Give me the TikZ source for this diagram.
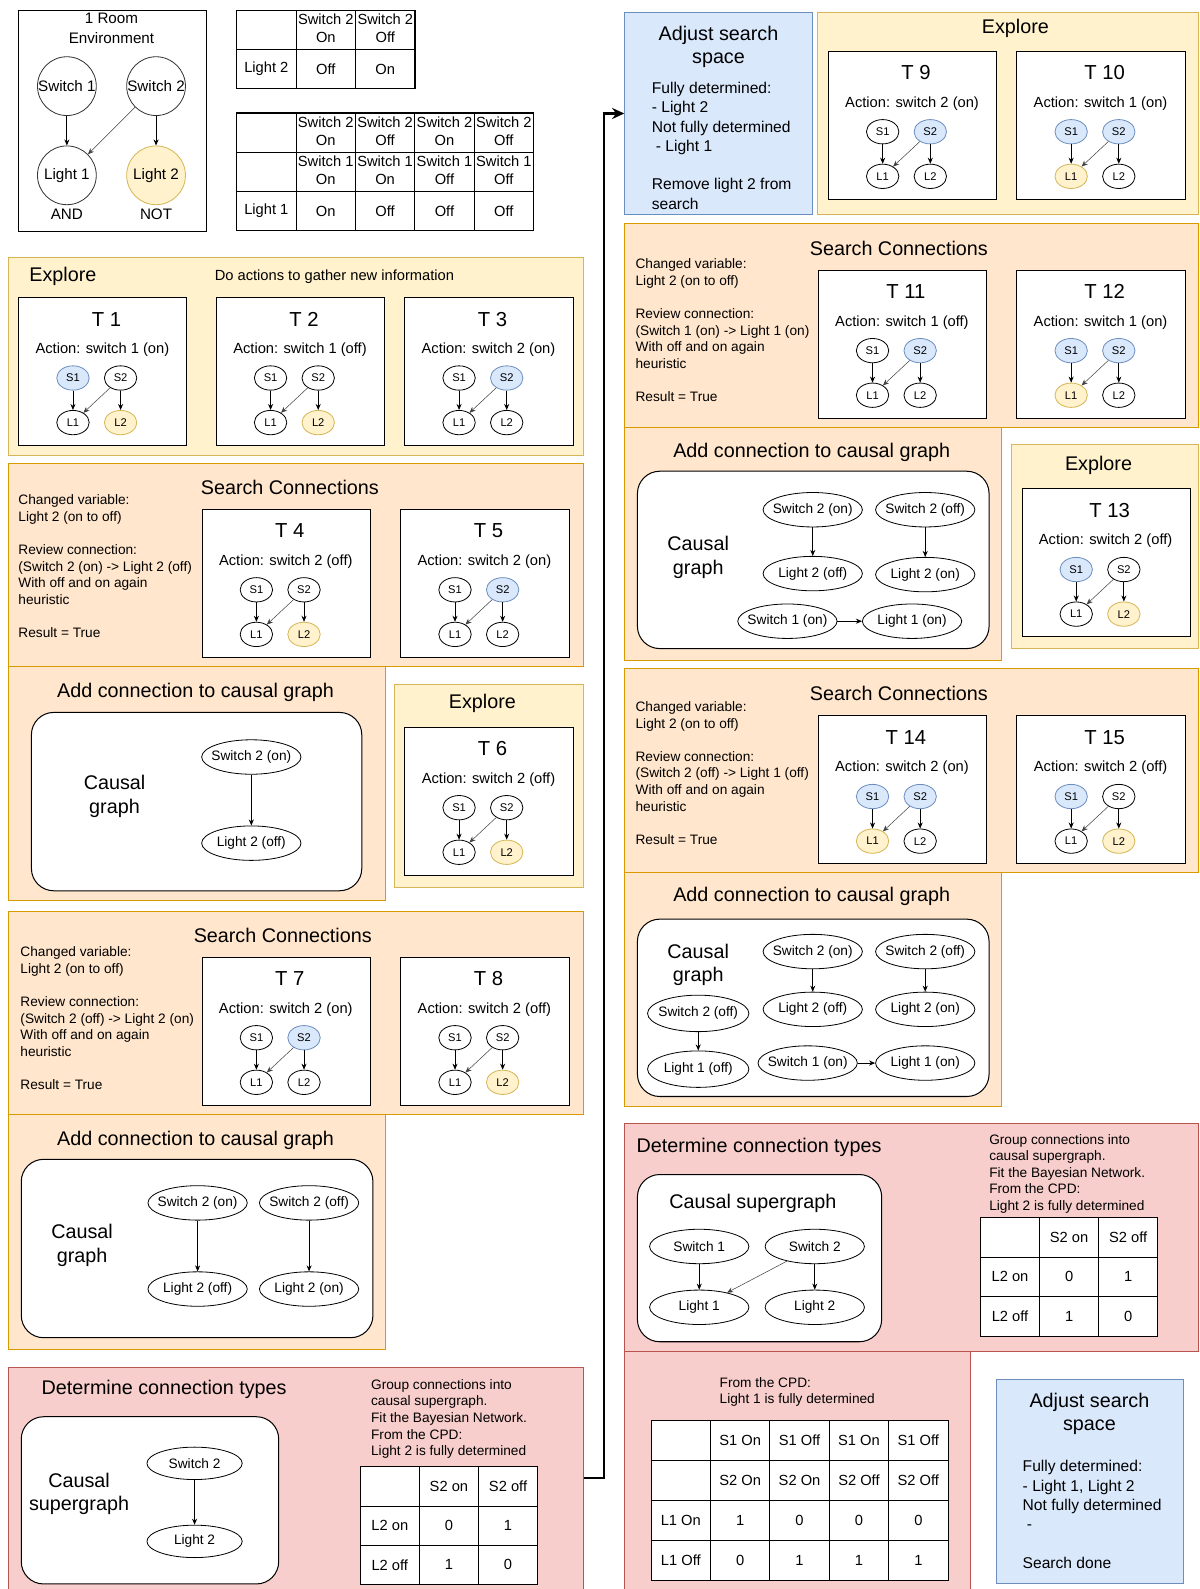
\documentclass[tikz,border=0pt]{standalone}
\usepackage{fontspec}
\setmainfont{Liberation Sans}
\usetikzlibrary{arrows.meta,shapes.geometric,matrix}
\definecolor{yfill}{HTML}{FFF2CC}
\definecolor{ystroke}{HTML}{D6B656}
\definecolor{ofill}{HTML}{FFE6CC}
\definecolor{ostroke}{HTML}{D79B00}
\definecolor{rfill}{HTML}{F8CECC}
\definecolor{rstroke}{HTML}{B85450}
\definecolor{bfill}{HTML}{DAE8FC}
\definecolor{bstroke}{HTML}{6C8EBF}
\newcommand\fsTitle{\fontsize{19.5}{23}\selectfont}
\newcommand\fsBody{\fontsize{13.5}{16.4}\selectfont}
\newcommand\fsAct{\fontsize{14.5}{17}\selectfont}
\newcommand\fsTnum{\fontsize{20}{24}\selectfont}
\newcommand\fsTab{\fontsize{14.5}{18}\selectfont}
\newcommand\fsBlue{\fontsize{15.4}{19}\selectfont}
\newcommand\fsEll{\fontsize{13.5}{16}\selectfont}
\newcommand\fsSm{\fontsize{11}{13}\selectfont}
\newcommand\fsEnv{\fontsize{15}{19}\selectfont}
\newcommand\mytwoline[2]{\begin{tabular}{@{}c@{}}#1\\#2\end{tabular}}
\tikzset{
  yellowpanel/.style={draw=ystroke, fill=yfill, line width=1pt},
  orangepanel/.style={draw=ostroke, fill=ofill, line width=1pt},
  redpanel/.style={draw=rstroke, fill=rfill, line width=1pt},
  bluepanel/.style={draw=bstroke, fill=bfill, line width=1pt},
  whitepanel/.style={draw=black, fill=white, line width=1pt},
  roundpanel/.style={draw=black, fill=white, line width=1pt, rounded corners=22pt},
  ttl/.style={font=\fsTitle, inner sep=0pt},
  leftbody/.style={font=\fsBody, align=left, anchor=north west, inner sep=0pt},
  bluebody/.style={font=\fsBlue, align=left, anchor=north west, inner sep=0pt},
  tframe/.style={draw=black, fill=white, line width=1pt, minimum width=166pt, minimum height=146pt, inner sep=0pt, anchor=north west},
  tnum/.style={font=\fsTnum, inner sep=0pt},
  tact/.style={font=\fsAct, inner sep=0pt},
  smnode/.style={ellipse, draw=black, line width=0.8pt, fill=white, minimum width=32pt, minimum height=24pt, inner sep=0pt, font=\fsSm},
  stnone/.style={},
  stblue/.style={fill=bfill, draw=bstroke},
  styellow/.style={fill=yfill, draw=ystroke},
  bignode/.style={ellipse, draw=black, line width=0.8pt, fill=white, minimum width=98pt, minimum height=34pt, inner xsep=-9pt, inner ysep=-4pt, font=\fsEll},
  envnode/.style={circle, draw=black!80, line width=0.8pt, fill=white, minimum size=58pt, inner sep=0pt, font=\fsEnv},
  arr/.style={-{Stealth[length=6pt,width=5pt]}, line width=0.8pt, draw=black},
  darr/.style={-{Stealth[length=6pt,width=5pt]}, line width=0.5pt, draw=black!75},
  bigarrow/.style={-{Stealth[length=12pt,width=11pt]}, line width=2.8pt, draw=black},
  tablestyle/.style={matrix of nodes, nodes in empty cells, anchor=north west, inner sep=0pt, outer sep=0pt, column sep=-1pt, row sep=-1pt,
    nodes={draw=black, fill=white, line width=1pt, inner sep=0pt, outer sep=0pt, anchor=center, font=\fsTab}},
}
\newcommand\mypanel[6]{%
  \pgfmathsetmacro\mypanelw{#5-#3}\pgfmathsetmacro\mypanelh{#6-#4}%
  \node[#2, rectangle, minimum width=\mypanelw pt, minimum height=\mypanelh pt, inner sep=0pt, outer sep=0pt, anchor=north west] (#1) at (#3,#4) {};}
\newcommand\mytstate[9]{%
  \node[tframe] (#1) at (#2,#3) {};
  \node[tnum] (#1n) at (#2+87,#3+22) {T #4};
  \node[tact] (#1a) at (#2+83,#3+52) {Action: #5};
  \node[smnode,#6] (#1s1) at (#2+54,#3+80) {S1};
  \node[smnode,#7] (#1s2) at (#2+101,#3+80) {S2};
  \node[smnode,#8] (#1l1) at (#2+54,#3+124) {L1};
  \node[smnode,#9] (#1l2) at (#2+101,#3+124) {L2};
  \draw[arr] (#1s1) -- (#1l1);
  \draw[arr] (#1s2) -- (#1l2);
  \draw[darr] (#1s2) -- (#1l1);
}
\begin{document}
\begin{tikzpicture}[x=1pt,y=-1pt]
\fill[white] (0,0) rectangle (1184,1568);
\useasboundingbox (0,0) rectangle (1184,1568);

% ---------- environment ----------
\mypanel{env}{whitepanel}{18}{10}{204}{228}
\node[font=\fsEnv, align=center, inner sep=0pt] (envt) at (110,28) {1 Room\\Environment};
\node[envnode] (sw1) at (66,85) {Switch 1};
\node[envnode] (sw2) at (154,85) {Switch 2};
\node[envnode] (li1) at (66,173) {Light 1};
\node[envnode, fill=yfill, draw=ystroke] (li2) at (154,173) {Light 2};
\node[font=\fsEnv] (andl) at (66,211) {AND};
\node[font=\fsEnv] (notl) at (154,211) {NOT};
\draw[arr] (sw1) -- (li1);
\draw[arr] (sw2) -- (li2);
\draw[darr] (sw2) -- (li1);

\matrix (tabA) [tablestyle, nodes={minimum width=58.67pt, minimum height=38.5pt}] at (233,10) {
  & \mytwoline{Switch 2}{On} & \mytwoline{Switch 2}{Off} \\
  Light 2 & Off & On \\
};
\matrix (tabB) [tablestyle, nodes={minimum width=58.6pt, minimum height=38.67pt}] at (233,111) {
  & \mytwoline{Switch 2}{On} & \mytwoline{Switch 2}{Off} & \mytwoline{Switch 2}{On} & \mytwoline{Switch 2}{Off} \\
  & \mytwoline{Switch 1}{On} & \mytwoline{Switch 1}{On} & \mytwoline{Switch 1}{Off} & \mytwoline{Switch 1}{Off} \\
  Light 1 & On & Off & Off & Off \\
};

% ---------- left column ----------
\mypanel{exp1}{yellowpanel}{8}{254}{576}{449}
\node[ttl] (exp1t) at (62,273) {Explore};
\node[font=\fsAct, inner sep=0pt] (exp1d) at (330,273) {Do actions to gather new information};
\mytstate{t1}{18}{293}{1}{switch 1 (on)}{stblue}{stnone}{stnone}{styellow}
\mytstate{t2}{213}{293}{2}{switch 1 (off)}{stnone}{stnone}{stnone}{styellow}
\mytstate{t3}{399}{293}{3}{switch 2 (on)}{stnone}{stblue}{stnone}{stnone}

\mypanel{sc1}{orangepanel}{8}{457}{576}{658}
\node[ttl] (sc1t) at (286,481) {Search Connections};
\node[leftbody] (sc1d) at (18,488) {Changed variable:\\Light 2 (on to off)\\[16.4pt]Review connection:\\(Switch 2 (on) -> Light 2 (off)\\With off and on again\\heuristic\\[16.4pt]Result = True};
\mytstate{t4}{199}{502}{4}{switch 2 (off)}{stnone}{stnone}{stnone}{styellow}
\mytstate{t5}{395}{502}{5}{switch 2 (on)}{stnone}{stblue}{stnone}{stnone}

\mypanel{ac1}{orangepanel}{8}{658}{380}{889}
\node[ttl] (ac1t) at (193,683) {Add connection to causal graph};
\mypanel{cg1}{roundpanel}{31}{703}{357}{879}
\node[ttl, align=center] (cg1t) at (113,786) {Causal\\graph};
\node[bignode] (cg1a) at (248,747) {Switch 2 (on)};
\node[bignode] (cg1b) at (248,832) {Light 2 (off)};
\draw[arr] (cg1a) -- (cg1b);

\mypanel{exp2}{yellowpanel}{389}{675}{576}{876}
\node[ttl] (exp2t) at (476,694) {Explore};
\mytstate{t6}{399}{717}{6}{switch 2 (off)}{stnone}{stnone}{stnone}{styellow}

\mypanel{sc2}{orangepanel}{8}{899}{576}{1100}
\node[ttl] (sc2t) at (279,923) {Search Connections};
\node[leftbody] (sc2d) at (20,934) {Changed variable:\\Light 2 (on to off)\\[16.4pt]Review connection:\\(Switch 2 (off) -> Light 2 (on)\\With off and on again\\heuristic\\[16.4pt]Result = True};
\mytstate{t7}{199}{944}{7}{switch 2 (on)}{stnone}{stblue}{stnone}{stnone}
\mytstate{t8}{395}{944}{8}{switch 2 (off)}{stnone}{stnone}{stnone}{styellow}

\mypanel{ac2}{orangepanel}{8}{1100}{380}{1332}
\node[ttl] (ac2t) at (193,1125) {Add connection to causal graph};
\mypanel{cg2}{roundpanel}{21}{1144}{368}{1320}
\node[ttl, align=center] (cg2t) at (81,1229) {Causal\\graph};
\node[bignode] (cg2a) at (195,1187) {Switch 2 (on)};
\node[bignode] (cg2b) at (305,1187) {Switch 2 (off)};
\node[bignode] (cg2c) at (195,1272) {Light 2 (off)};
\node[bignode] (cg2d) at (305,1272) {Light 2 (on)};
\draw[arr] (cg2a) -- (cg2c);
\draw[arr] (cg2b) -- (cg2d);

\mypanel{det1}{redpanel}{8}{1349}{576}{1568}
\node[ttl] (det1t) at (162,1371) {Determine connection types};
\mypanel{sg1}{roundpanel}{21}{1398}{275}{1563}
\node[ttl, align=center] (sg1t) at (78,1474) {Causal\\supergraph};
\node[bignode, minimum width=94pt, minimum height=32pt] (sg1a) at (192,1444) {Switch 2};
\node[bignode, minimum width=94pt, minimum height=32pt] (sg1b) at (192,1521) {Light 2};
\draw[arr] (sg1a) -- (sg1b);
\node[leftbody] (det1d) at (366,1361) {Group connections into\\causal supergraph.\\Fit the Bayesian Network.\\From the CPD:\\Light 2 is fully determined};
\matrix (tabC) [tablestyle, nodes={minimum width=58.33pt, minimum height=38.67pt}] at (355,1447) {
  & S2 on & S2 off \\
  L2 on & 0 & 1 \\
  L2 off & 1 & 0 \\
};

% ---------- right column ----------
\mypanel{adj1}{bluepanel}{616}{12}{802}{212}
\node[ttl, align=center] (adj1t) at (709,46) {Adjust search\\space};
\node[bluebody] (adj1d) at (643,81) {Fully determined:\\- Light 2\\Not fully determined\\\hspace*{4pt}- Light 1\\[19pt]Remove light 2 from\\search};

\draw[bigarrow] (det1.east) -- ++(20,0) |- (adj1.west);

\mypanel{exp3}{yellowpanel}{807}{12}{1183}{212}
\node[ttl] (exp3t) at (1002,28) {Explore};
\mytstate{t9}{817}{50}{9}{switch 2 (on)}{stnone}{stblue}{stnone}{stnone}
\mytstate{t10}{1003}{50}{10}{switch 1 (on)}{stblue}{stblue}{styellow}{stnone}

\mypanel{sc3}{orangepanel}{616}{221}{1183}{422}
\node[ttl] (sc3t) at (887,245) {Search Connections};
\node[leftbody] (sc3d) at (627,255) {Changed variable:\\Light 2 (on to off)\\[16.4pt]Review connection:\\(Switch 1 (on) -> Light 1 (on)\\With off and on again\\heuristic\\[16.4pt]Result = True};
\mytstate{t11}{807}{266}{11}{switch 1 (off)}{stnone}{stblue}{stnone}{stnone}
\mytstate{t12}{1003}{266}{12}{switch 1 (on)}{stblue}{stblue}{styellow}{stnone}

\mypanel{ac3}{orangepanel}{616}{422}{988}{652}
\node[ttl] (ac3t) at (801,446) {Add connection to causal graph};
\mypanel{cg3}{roundpanel}{629}{465}{976}{640}
\node[ttl, align=center] (cg3t) at (689,550) {Causal\\graph};
\node[bignode] (cg3a) at (802,503) {Switch 2 (on)};
\node[bignode] (cg3b) at (913,503) {Switch 2 (off)};
\node[bignode] (cg3c) at (802,566) {Light 2 (off)};
\node[bignode] (cg3d) at (913,567) {Light 2 (on)};
\node[bignode] (cg3e) at (777,613) {Switch 1 (on)};
\node[bignode] (cg3f) at (900,613) {Light 1 (on)};
\draw[arr] (cg3a) -- (cg3c);
\draw[arr] (cg3b) -- (cg3d);
\draw[arr] (cg3e) -- (cg3f);

\mypanel{exp4}{yellowpanel}{998}{439}{1183}{640}
\node[ttl] (exp4t) at (1084,459) {Explore};
\mytstate{t13}{1008}{482}{13}{switch 2 (off)}{stblue}{stnone}{stnone}{styellow}

\mypanel{sc4}{orangepanel}{616}{660}{1183}{861}
\node[ttl] (sc4t) at (887,684) {Search Connections};
\node[leftbody] (sc4d) at (627,692) {Changed variable:\\Light 2 (on to off)\\[16.4pt]Review connection:\\(Switch 2 (off) -> Light 1 (off)\\With off and on again\\heuristic\\[16.4pt]Result = True};
\mytstate{t14}{807}{706}{14}{switch 2 (on)}{stblue}{stblue}{styellow}{stnone}
\mytstate{t15}{1003}{706}{15}{switch 2 (off)}{stblue}{stnone}{stnone}{styellow}

\mypanel{ac4}{orangepanel}{616}{861}{988}{1092}
\node[ttl] (ac4t) at (801,885) {Add connection to causal graph};
\mypanel{cg4}{roundpanel}{629}{907}{976}{1082}
\node[ttl, align=center] (cg4t) at (689,952) {Causal\\graph};
\node[bignode] (cg4a) at (802,939) {Switch 2 (on)};
\node[bignode] (cg4b) at (913,939) {Switch 2 (off)};
\node[bignode] (cg4c) at (802,996) {Light 2 (off)};
\node[bignode] (cg4d) at (913,996) {Light 2 (on)};
\node[bignode, minimum width=100pt, minimum height=36pt] (cg4e) at (689,1000) {Switch 2 (off)};
\node[bignode, minimum width=100pt, minimum height=36pt] (cg4f) at (689,1055) {Light 1 (off)};
\node[bignode] (cg4g) at (797,1049) {Switch 1 (on)};
\node[bignode] (cg4h) at (913,1049) {Light 1 (on)};
\draw[arr] (cg4a) -- (cg4c);
\draw[arr] (cg4b) -- (cg4d);
\draw[arr] (cg4e) -- (cg4f);
\draw[arr] (cg4g) -- (cg4h);

\mypanel{det2}{redpanel}{616}{1109}{1183}{1334}
\node[ttl] (det2t) at (749,1132) {Determine connection types};
\mypanel{sg2}{roundpanel}{629}{1159}{870}{1324}
\node[ttl] (sg2t) at (743,1187) {Causal supergraph};
\node[bignode] (sg2a) at (690,1230) {Switch 1};
\node[bignode] (sg2b) at (804,1230) {Switch 2};
\node[bignode] (sg2c) at (690,1290) {Light 1};
\node[bignode] (sg2d) at (804,1290) {Light 2};
\draw[arr] (sg2a) -- (sg2c);
\draw[arr] (sg2b) -- (sg2d);
\draw[darr] (sg2b) -- (sg2c);
\node[leftbody] (det2d) at (976,1119) {Group connections into\\causal supergraph.\\Fit the Bayesian Network.\\From the CPD:\\Light 2 is fully determined};
\matrix (tabD) [tablestyle, nodes={minimum width=58.33pt, minimum height=39pt}] at (967,1201) {
  & S2 on & S2 off \\
  L2 on & 0 & 1 \\
  L2 off & 1 & 0 \\
};

\mypanel{det3}{redpanel}{616}{1334}{958}{1568}
\node[leftbody] (det3d) at (710,1359) {From the CPD:\\Light 1 is fully determined};
\matrix (tabE) [tablestyle, nodes={minimum width=58.6pt, minimum height=39.5pt}] at (642,1401) {
  & S1 On & S1 Off & S1 On & S1 Off \\
  & S2 On & S2 On & S2 Off & S2 Off \\
  L1 On & 1 & 0 & 0 & 0 \\
  L1 Off & 0 & 1 & 1 & 1 \\
};

\mypanel{adj2}{bluepanel}{983}{1361}{1168}{1563}
\node[ttl, align=center] (adj2t) at (1075,1395) {Adjust search\\space};
\node[bluebody] (adj2d) at (1009,1441) {Fully determined:\\- Light 1, Light 2\\Not fully determined\\\hspace*{4pt}-\\[19pt]Search done};
\end{tikzpicture}
\end{document}
